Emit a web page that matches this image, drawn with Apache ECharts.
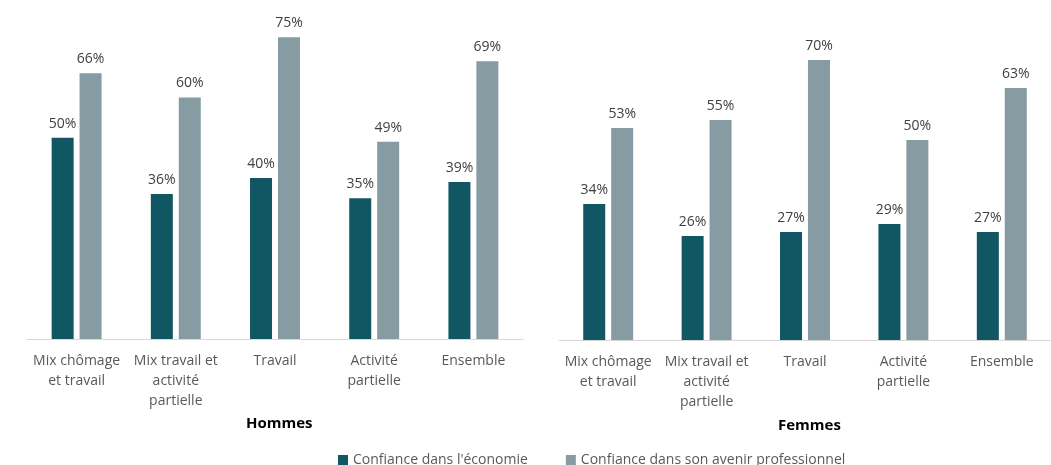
<!DOCTYPE html>
<html><head><meta charset="utf-8">
<script src="https://cdn.jsdelivr.net/npm/echarts@6/dist/echarts.min.js"></script>
<style>html,body{margin:0;padding:0;background:#fff}#c{width:1051px;height:465px}</style>
</head><body><div id="c"></div>
<script>
const categories = ['Mix chômage\net travail', 'Mix travail et\nactivité\npartielle', 'Travail', 'Activité\npartielle', 'Ensemble'];
const seriesNames = ["Confiance dans l'économie", 'Confiance dans son avenir professionnel'];
const hommesEconomie = [50, 36, 40, 35, 39];
const hommesAvenir = [66, 60, 75, 49, 69];
const femmesEconomie = [34, 26, 27, 29, 27];
const femmesAvenir = [53, 55, 70, 50, 63];
const panelTitles = ['Hommes', 'Femmes'];

const DARK = '#115763', GRAY = '#879BA3';
const FONT = 'Open Sans';
const label = {show: true, position: 'top', distance: 7, formatter: p => p.value + '%', color: '#404040', fontSize: 14, fontFamily: FONT};
function xAx(i) {
  return {type: 'category', gridIndex: i, data: categories,
    axisLine: {lineStyle: {color: '#d9d9d9'}}, axisTick: {show: false},
    axisLabel: {interval: 0, color: '#595959', fontSize: 14, fontFamily: FONT, lineHeight: 20, margin: 12}};
}
function yAx(i) {
  return {type: 'value', gridIndex: i, min: 0, max: 80, show: false, splitLine: {show: false}};
}
function bar(name, data, i, color) {
  return {type: 'bar', name, data, xAxisIndex: i, yAxisIndex: i, barWidth: 22, barGap: '27%',
    itemStyle: {color}, label};
}
const chart = echarts.init(document.getElementById('c'), null, {renderer: 'canvas'});
chart.setOption({
  animation: false,
  textStyle: {fontFamily: FONT},
  grid: [
    {left: 27, width: 496, top: 17, bottom: 126},
    {left: 559, width: 500, top: 20, bottom: 125}
  ],
  xAxis: [xAx(0), xAx(1)],
  yAxis: [yAx(0), yAx(1)],
  title: [
    {text: panelTitles[0], left: 241, top: 411, textStyle: {fontSize: 15, fontWeight: 'bold', color: '#000', fontFamily: FONT}},
    {text: panelTitles[1], left: 773, top: 413, textStyle: {fontSize: 15, fontWeight: 'bold', color: '#000', fontFamily: FONT}}
  ],
  legend: {data: seriesNames, left: 333, top: 448, itemWidth: 10, itemHeight: 10, itemGap: 38, icon: 'rect',
    textStyle: {color: '#595959', fontSize: 14, fontFamily: FONT}},
  series: [
    bar(seriesNames[0], hommesEconomie, 0, DARK),
    bar(seriesNames[1], hommesAvenir, 0, GRAY),
    bar(seriesNames[0], femmesEconomie, 1, DARK),
    bar(seriesNames[1], femmesAvenir, 1, GRAY)
  ]
});
</script></body></html>
